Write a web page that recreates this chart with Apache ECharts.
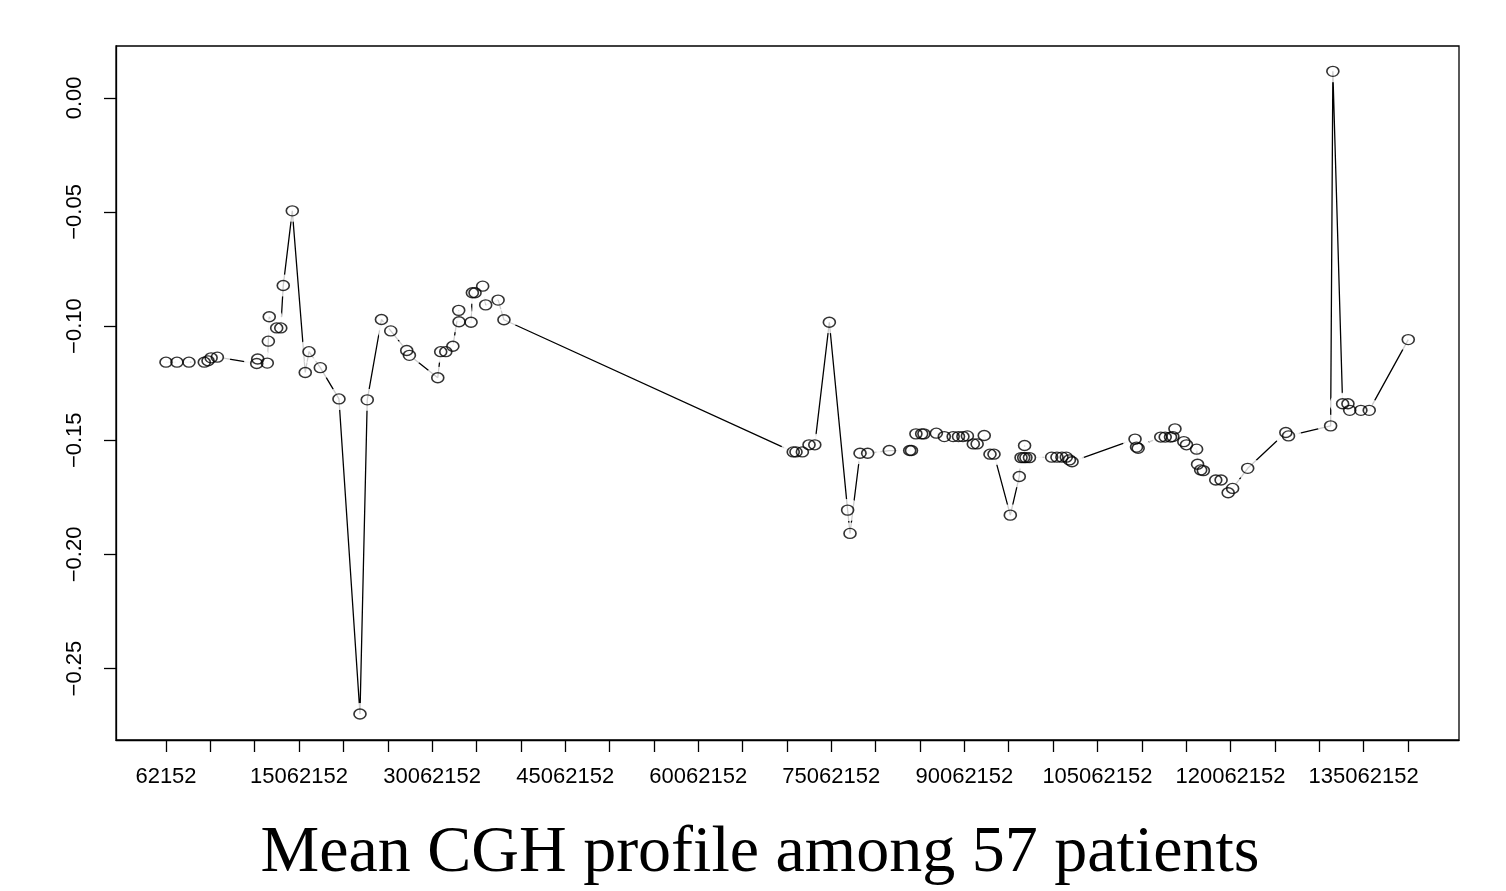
<!DOCTYPE html>
<html>
<head>
<meta charset="utf-8">
<script src="https://cdn.jsdelivr.net/npm/echarts@6/dist/echarts.min.js"></script>
<style>
html, body { margin: 0; padding: 0; background: #fff; }
#chart { width: 1506px; height: 891px; }
</style>
</head>
<body>
<div id="chart"></div>
<script>
// Clone positions (bp) and mean log-ratio
var positions = [
    62152, 1300000, 2650000, 4380000, 4800000, 5150000, 5850000,
    10290000, 10400000, 11480000, 11600000, 11700000, 12540000, 13000000,
    13280000, 14300000, 15760000, 16180000, 17460000, 19560000, 21930000,
    22750000, 24350000, 25400000, 27200000, 27500000, 30700000, 31030000,
    31600000, 32400000, 33060000, 33100000, 34450000, 34600000, 34900000,
    35760000, 36100000, 37500000, 38160000,
    70770000, 71080000, 71800000, 72550000, 73200000, 74840000, 76900000,
    77170000, 78300000, 79160000, 81600000, 83900000, 84100000, 84600000,
    85250000, 85500000, 86900000, 87800000, 88800000, 89400000, 89900000,
    90400000, 91070000, 91500000, 92300000, 92950000, 93400000, 95240000,
    96250000, 96450000, 96750000, 96850000, 97000000, 97400000,
    99900000, 100500000, 101060000, 101550000, 101900000, 102200000,
    109300000, 109470000, 109650000, 112200000, 112700000, 113300000,
    113560000, 113800000, 114800000, 115100000, 116240000, 116350000,
    116700000, 117000000, 118400000, 119000000, 119800000, 120300000,
    122000000, 126300000, 126600000, 131350000, 131600000, 132700000,
    133300000, 133500000, 134760000, 135700000, 140100000
];
var means = [
    -0.1158, -0.1158, -0.1158, -0.1158, -0.1152, -0.1139, -0.1136,
    -0.1164, -0.1144, -0.1162, -0.1066, -0.0959, -0.1008, -0.1008,
    -0.0822, -0.0495, -0.1203, -0.1112, -0.1182, -0.1319, -0.2699,
    -0.1323, -0.0971, -0.1021, -0.1107, -0.1128, -0.1226, -0.1112,
    -0.1112, -0.1088, -0.0931, -0.0981, -0.0983, -0.0854, -0.0854,
    -0.0825, -0.0907, -0.0886, -0.0972,
    -0.1551, -0.1551, -0.1551, -0.1520, -0.1520, -0.0983, -0.1806,
    -0.1908, -0.1557, -0.1557, -0.1545, -0.1545, -0.1545, -0.1472,
    -0.1472, -0.1472, -0.1469, -0.1484, -0.1484, -0.1484, -0.1484,
    -0.1481, -0.1516, -0.1516, -0.1479, -0.1561, -0.1561, -0.1828,
    -0.1659, -0.1576, -0.1576, -0.1523, -0.1576, -0.1576,
    -0.1574, -0.1574, -0.1574, -0.1574, -0.1586, -0.1594,
    -0.1495, -0.1530, -0.1535, -0.1486, -0.1486, -0.1486,
    -0.1484, -0.1450, -0.1506, -0.1520, -0.1539, -0.1605,
    -0.1630, -0.1633, -0.1674, -0.1674, -0.1730, -0.1711,
    -0.1623, -0.1466, -0.1481, -0.1437, 0.0116, -0.1340,
    -0.1340, -0.1369, -0.1369, -0.1369, -0.1059
];

var xTicks = [
    62152, 5062152, 10062152, 15062152, 20062152, 25062152, 30062152,
    35062152, 40062152, 45062152, 50062152, 55062152, 60062152, 65062152,
    70062152, 75062152, 80062152, 85062152, 90062152, 95062152, 100062152,
    105062152, 110062152, 115062152, 120062152, 125062152, 130062152,
    135062152, 140062152
];
var xLabels = [
    62152, 15062152, 30062152, 45062152, 60062152, 75062152, 90062152,
    105062152, 120062152, 135062152
];
var yTicks = [-0.25, -0.20, -0.15, -0.10, -0.05, 0.00];

var points = positions.map(function (p, i) { return [p, means[i]]; });

var chart = echarts.init(document.getElementById('chart'), null, { renderer: 'canvas' });

var axisFont = { fontFamily: '"Liberation Sans", Arial, sans-serif', fontSize: 22, color: '#000' };

chart.setOption({
    animation: false,
    backgroundColor: '#fff',
    grid: {
        left: 116, top: 46, right: 47, bottom: 151,
        show: true, borderColor: '#000', borderWidth: 1.3,
        outerBoundsMode: 'none'
    },
    xAxis: {
        type: 'value',
        min: -5573848, max: 145820000,
        splitLine: { show: false },
        axisLine: { show: true, onZero: false, lineStyle: { color: '#000', width: 1.3 } },
        axisTick: { show: true, inside: false, length: 12, customValues: xTicks,
            lineStyle: { color: '#000', width: 1.3 } },
        axisLabel: Object.assign({
            customValues: xLabels, margin: 26,
            formatter: function (v) { return String(v); }
        }, axisFont)
    },
    yAxis: {
        type: 'value',
        min: -0.2813, max: 0.0227,
        splitLine: { show: false },
        axisLine: { show: true, onZero: false, lineStyle: { color: '#000', width: 1.3 } },
        axisTick: { show: true, inside: false, length: 12, customValues: yTicks,
            lineStyle: { color: '#000', width: 1.3 } },
        axisLabel: Object.assign({
            customValues: yTicks, rotate: 90, margin: 30,
            formatter: function (v) {
                return (v < -1e-9 ? '\u2212' : '') + Math.abs(v).toFixed(2);
            }
        }, axisFont)
    },
    series: [
        {
            type: 'line', data: points, showSymbol: false, silent: true, z: 2,
            lineStyle: { color: '#000', width: 1.3 }
        },
        {
            // white halo so the segments stop short of each circle (R type = "b")
            type: 'scatter', data: points, symbol: 'circle', symbolSize: [26, 22],
            silent: true, z: 3, itemStyle: { color: '#fff' }
        },
        {
            type: 'scatter', data: points, symbol: 'circle', symbolSize: [12, 10],
            silent: true, z: 4,
            itemStyle: { color: 'rgba(0,0,0,0)', borderColor: '#000', borderWidth: 1.5 }
        }
    ],
    graphic: [{
        type: 'text', x: 760, y: 854, silent: true,
        style: {
            text: 'Mean CGH profile among 57 patients',
            font: '66px "Liberation Serif", "Times New Roman", serif',
            fill: '#000', align: 'center', verticalAlign: 'middle'
        }
    }]
});
</script>
</body>
</html>
